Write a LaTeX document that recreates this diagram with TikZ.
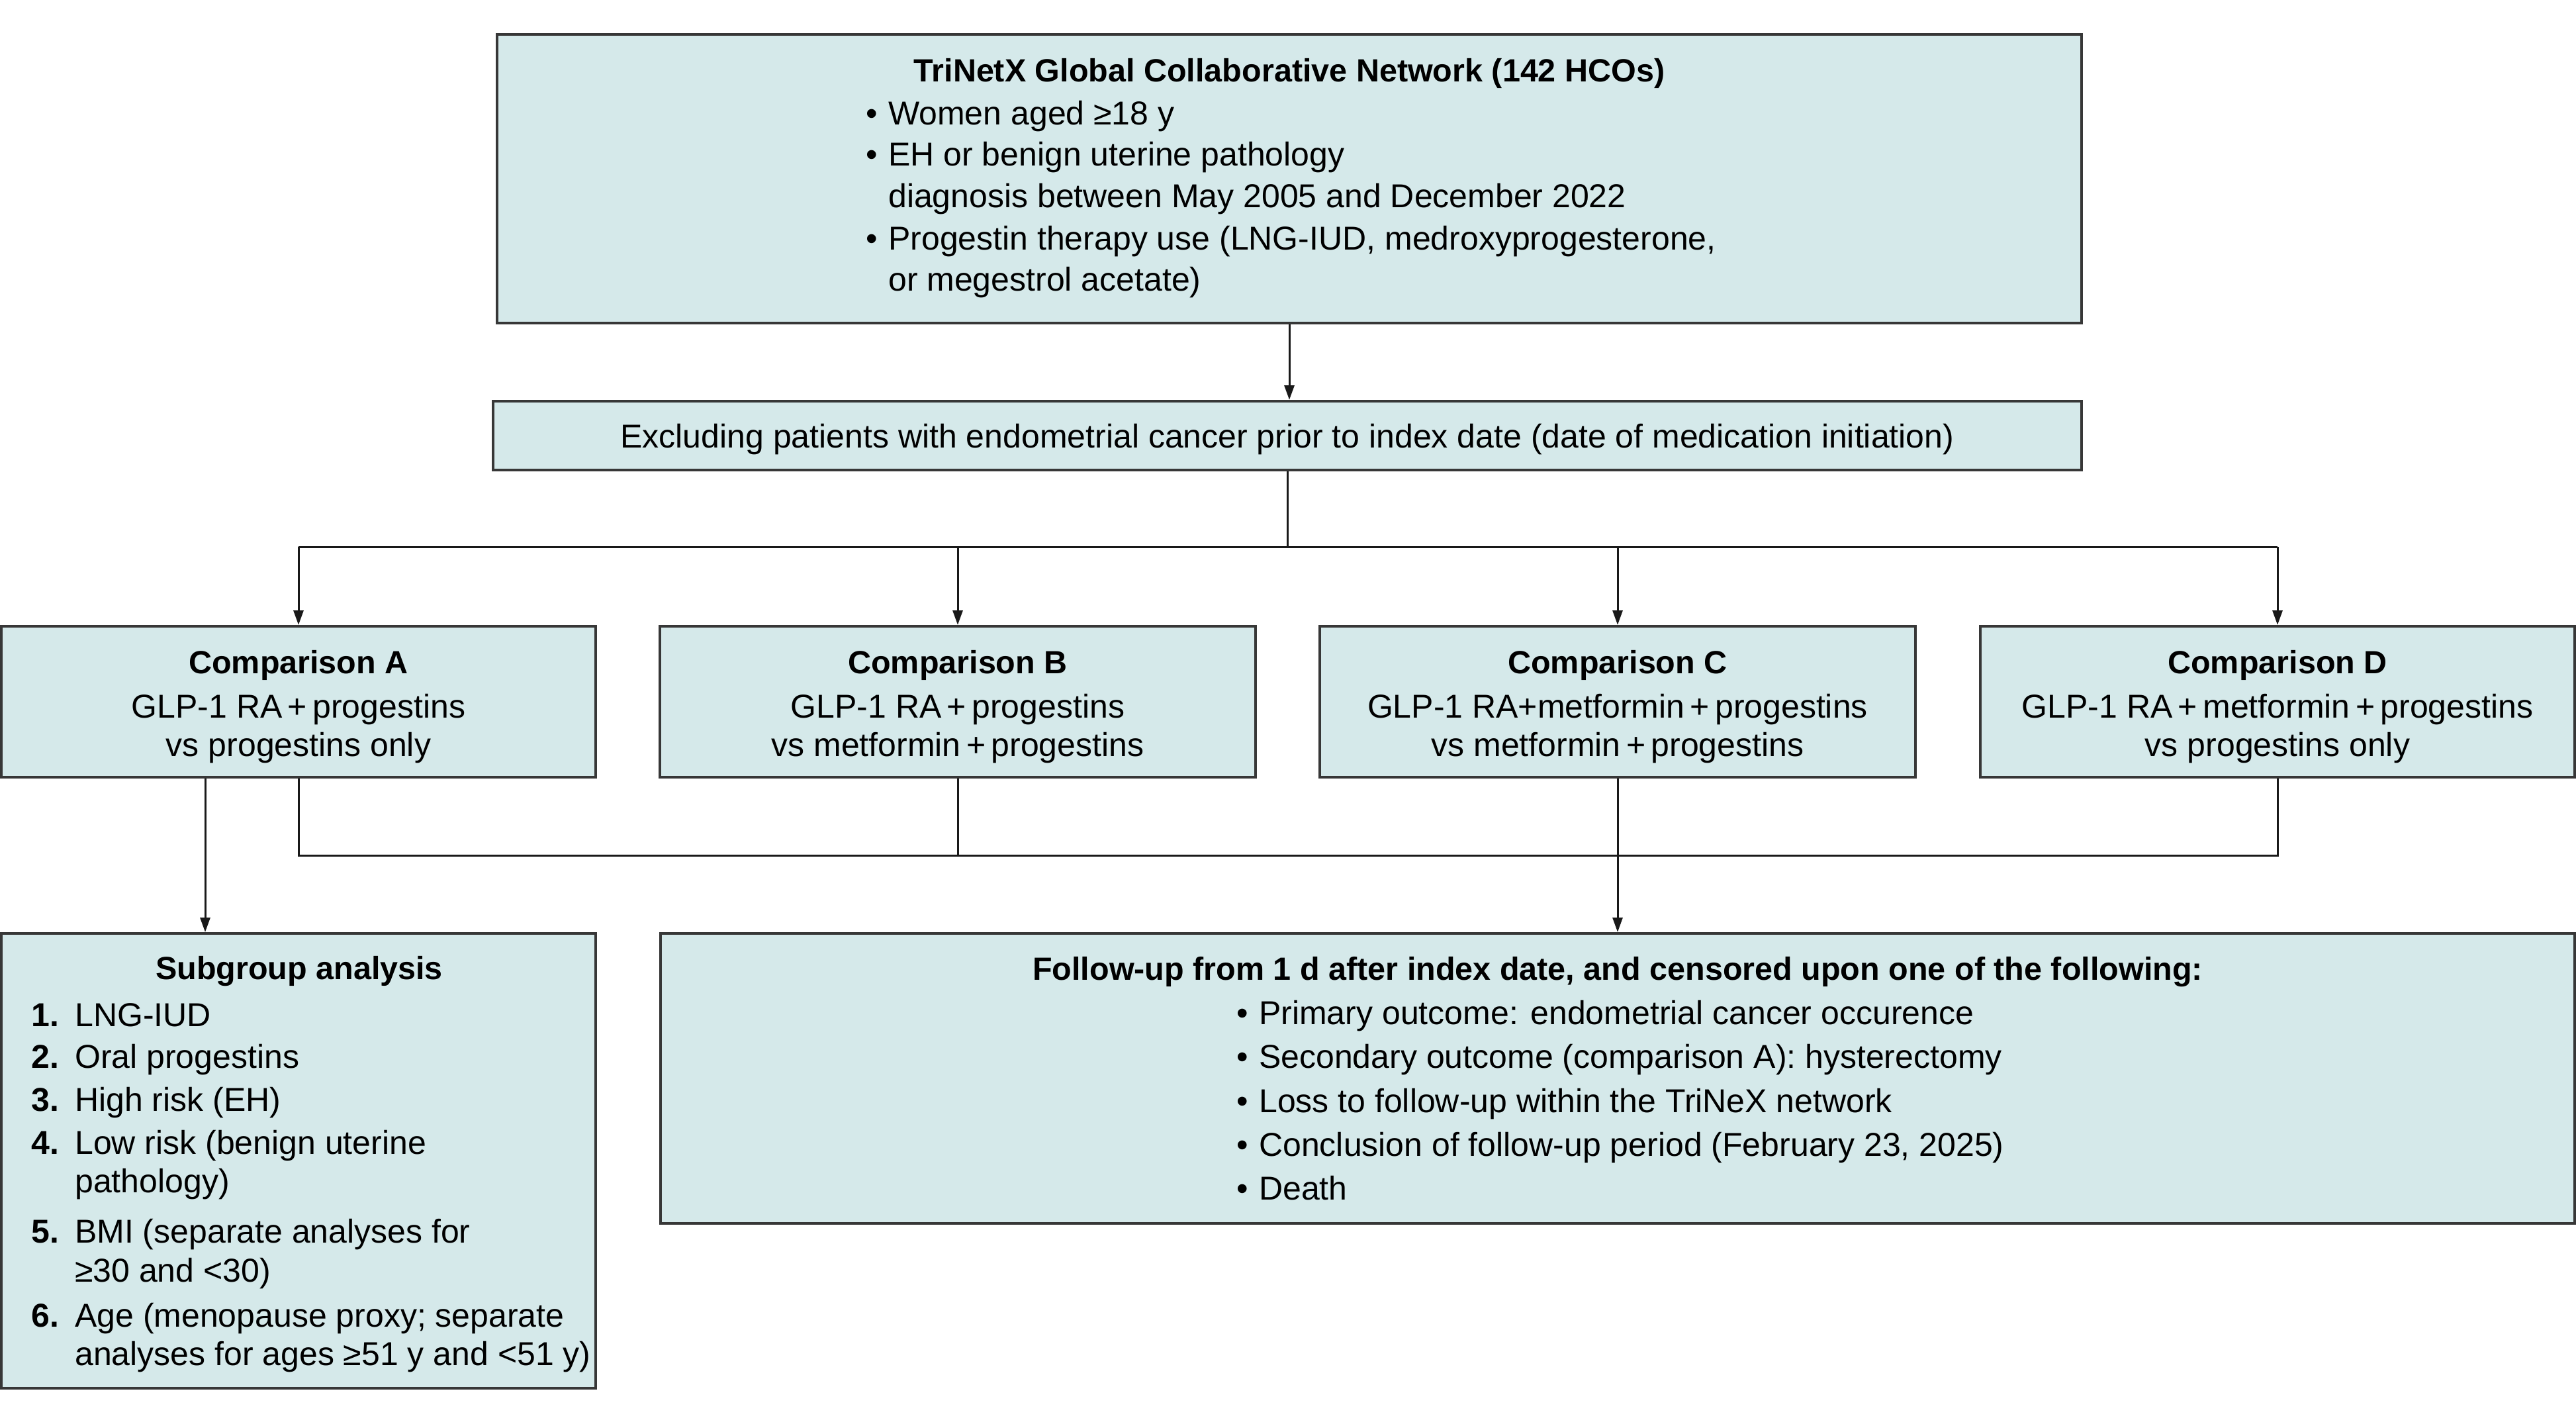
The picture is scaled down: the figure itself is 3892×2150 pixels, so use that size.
\documentclass[tikz,border=0pt]{standalone}
\usepackage{fontspec}
\setmainfont{Liberation Sans}
\usetikzlibrary{arrows.meta}
\definecolor{boxfill}{RGB}{213,233,234}
\definecolor{boxline}{RGB}{55,55,55}
\begin{document}
\begin{tikzpicture}[x=1pt,y=-1pt,
  box/.style={draw=boxline, fill=boxfill, line width=4pt, inner sep=0pt},
  txt/.style={font=\fontsize{50}{62}\selectfont, inner sep=0pt, anchor=base},
  txtl/.style={txt, anchor=base west},
  ttl/.style={txt, font=\fontsize{48.5}{62}\selectfont\bfseries},
  num/.style={txtl, font=\fontsize{50}{62}\selectfont\bfseries},
  conn/.style={draw=black!90, line width=3pt, line join=miter},
  arr/.style={conn, -{Triangle[length=22pt,width=15pt]}}]
\useasboundingbox (0,0) rectangle (3892,2150);

% boxes
\node[box, minimum width=2394pt, minimum height=436pt] (top) at (1948,270) {};
\node[box, minimum width=2400pt, minimum height=104pt] (excl) at (1945,658) {};
\node[box, minimum width=898pt, minimum height=228pt] (cA) at (451,1060) {};
\node[box, minimum width=900pt, minimum height=228pt] (cB) at (1447,1060) {};
\node[box, minimum width=900pt, minimum height=228pt] (cC) at (2444,1060) {};
\node[box, minimum width=898pt, minimum height=228pt] (cD) at (3441,1060) {};
\node[box, minimum width=898pt, minimum height=687pt] (sub) at (451,1753.5) {};
\node[box, minimum width=2892pt, minimum height=438pt] (fu) at (2444,1629) {};

% top box text
\node[ttl] (t0) at (1948,123) {TriNetX Global Collaborative Network (142 HCOs)};
\node[txtl] (t1b) at (1308,188) {•};
\node[txtl] (t1) at (1342,188) {Women aged ≥18 y};
\node[txtl] (t2b) at (1308,250) {•};
\node[txtl] (t2) at (1342,250) {EH or benign uterine pathology};
\node[txtl] (t3) at (1342,313) {diagnosis between May 2005 and December 2022};
\node[txtl] (t4b) at (1308,377) {•};
\node[txtl] (t4) at (1342,377) {Progestin therapy use (LNG-IUD, medroxyprogesterone,};
\node[txtl] (t5) at (1342,439) {or megestrol acetate)};

% exclusion text
\node[txt] (e1) at (1945,676) {Excluding patients with endometrial cancer prior to index date (date of medication initiation)};

% comparisons
\node[ttl] (a0) at (451,1017) {Comparison A};
\node[txt] (a1) at (451,1084) {GLP-1 RA\,+\,progestins};
\node[txt] (a2) at (451,1142) {vs progestins only};
\node[ttl] (b0) at (1447,1017) {Comparison B};
\node[txt] (b1) at (1447,1084) {GLP-1 RA\,+\,progestins};
\node[txt] (b2) at (1447,1142) {vs metformin\,+\,progestins};
\node[ttl] (c0) at (2444,1017) {Comparison C};
\node[txt] (c1) at (2444,1084) {GLP-1 RA+metformin\,+\,progestins};
\node[txt] (c2) at (2444,1142) {vs metformin\,+\,progestins};
\node[ttl] (d0) at (3441,1017) {Comparison D};
\node[txt] (d1) at (3441,1084) {GLP-1 RA\,+\,metformin\,+\,progestins};
\node[txt] (d2) at (3441,1142) {vs progestins only};

% subgroup
\node[ttl] (s0) at (452,1479) {Subgroup analysis};
\node[num] (n1) at (47,1550) {1.};
\node[txtl] (s1) at (113,1550) {LNG-IUD};
\node[num] (n2) at (47,1613) {2.};
\node[txtl] (s2) at (113,1613) {Oral progestins};
\node[num] (n3) at (47,1678) {3.};
\node[txtl] (s3) at (113,1678) {High risk (EH)};
\node[num] (n4) at (47,1743) {4.};
\node[txtl] (s4) at (113,1743) {Low risk (benign uterine};
\node[txtl] (s4b) at (113,1801) {pathology)};
\node[num] (n5) at (47,1877) {5.};
\node[txtl] (s5) at (113,1877) {BMI (separate analyses for};
\node[txtl] (s5b) at (113,1936) {≥30 and <30)};
\node[num] (n6) at (47,2004) {6.};
\node[txtl] (s6) at (113,2004) {Age (menopause proxy; separate};
\node[txtl] (s6b) at (113,2062) {analyses for ages ≥51 y and <51 y)};

% follow-up
\node[ttl] (f0) at (2444,1480) {Follow-up from 1 d after index date, and censored upon one of the following:};
\node[txtl] (f1b) at (1868,1547) {•};
\node[txtl] (f1) at (1902,1547) {Primary outcome: endometrial cancer occurence};
\node[txtl] (f2b) at (1868,1613) {•};
\node[txtl] (f2) at (1902,1613) {Secondary outcome (comparison A): hysterectomy};
\node[txtl] (f3b) at (1868,1680) {•};
\node[txtl] (f3) at (1902,1680) {Loss to follow-up within the TriNeX network};
\node[txtl] (f4b) at (1868,1746) {•};
\node[txtl] (f4) at (1902,1746) {Conclusion of follow-up period (February 23, 2025)};
\node[txtl] (f5b) at (1868,1812) {•};
\node[txtl] (f5) at (1902,1812) {Death};

% connectors
\coordinate (busA) at (0,826);
\coordinate (busB) at (0,1292);
\draw[arr] (top.south) -- (top.south |- excl.north);
\draw[conn] (excl.south) -- (excl.south |- busA);
\draw[conn] (cA.north |- busA) -- (cD.north |- busA);
\draw[arr] (cA.north |- busA) -- (cA.north);
\draw[arr] (cB.north |- busA) -- (cB.north);
\draw[arr] (cC.north |- busA) -- (cC.north);
\draw[arr] (cD.north |- busA) -- (cD.north);

\draw[arr] ([xshift=-141pt]cA.south) -- ([xshift=-141pt]cA.south |- sub.north);

\draw[conn] (cA.south) -- (cA.south |- busB) -- (cD.south |- busB) -- (cD.south);
\draw[conn] (cB.south) -- (cB.south |- busB);
\draw[arr] (cC.south) -- (fu.north);
\end{tikzpicture}
\end{document}
